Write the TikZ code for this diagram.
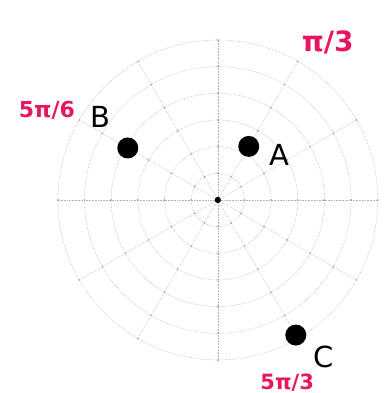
\documentclass[tikz,border=0pt]{standalone}
\usepackage{fontspec}
\setsansfont{DejaVu Sans}
\usetikzlibrary{positioning}
\definecolor{penpink}{RGB}{232,22,96}

\begin{document}
\begin{tikzpicture}[x=26.67pt,y=26.67pt,
  gridline/.style={gray!60,densely dotted,line width=0.55pt},
  ptdot/.style={circle,fill=black,inner sep=0pt,minimum size=21pt},
  ptlabel/.style={font=\sffamily\fontsize{29}{29}\selectfont,inner sep=0pt},
  anglab/.style={text=penpink,font=\sffamily\bfseries\fontsize{28}{28}\selectfont,inner sep=0pt}]
\useasboundingbox (-8.17,-7.24) rectangle (6.26,7.5);
% polar grid
\foreach \r in {1,...,6}
  \draw[gridline] (0,0) circle (\r);
\foreach \a in {0,30,...,330}
  \draw[gridline] (0,0) -- (\a:6);
\foreach \a in {0,30,...,330}
  \foreach \r in {1,...,6}
    \fill[gray!75] (\a:\r) circle (0.9pt);
\node[circle,fill,inner sep=2.2pt] (O) at (0,0) {};
% points
\node[ptdot] (A) at (60:2.32) {};
\node[ptdot] (B) at (150:3.9) {};
\node[ptdot] (C) at (300:5.85) {};
\node[ptlabel] (labA) at (2.32,1.69) {A};
\node[ptlabel] (labB) at (-4.42,3.11) {B};
\node[ptlabel] (labC) at (3.95,-5.9) {C};
% angles
\node[anglab] (angA) at (4.12,5.92) {π/3};
\node[anglab,font=\sffamily\bfseries\fontsize{22}{22}\selectfont] (angB) at (-6.41,3.37) {5π/6};
\node[anglab,font=\sffamily\bfseries\fontsize{21}{21}\selectfont] (angC) at (2.6,-6.85) {5π/3};
\end{tikzpicture}
\end{document}
